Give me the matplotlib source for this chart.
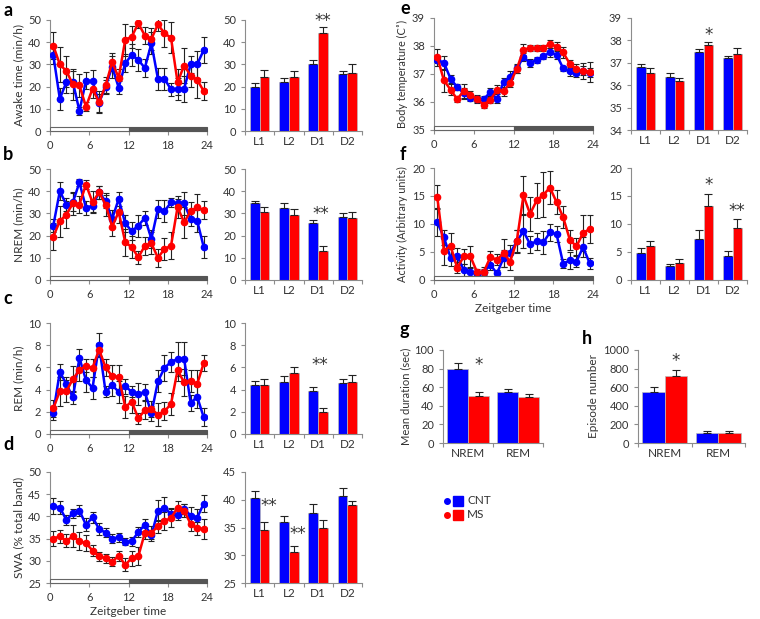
import matplotlib
matplotlib.use("Agg")
import matplotlib.pyplot as plt
import matplotlib.transforms as mtransforms
from matplotlib.patches import Rectangle
import numpy as np

plt.rcParams['font.family'] = ['Lato', 'DejaVu Sans']
plt.rcParams['font.size'] = 8

BLUE = "#0000ff"
RED = "#ff0000"
GREY = "#8c8c8c"
TXT = "#333333"

# hourly time points (Zeitgeber time)
zt = [h + 0.5 for h in range(24)]

# a: awake time (min/h)
a_cnt = [34.3, 14.5, 22, 22, 9, 22.7, 22.5, 12.7, 20, 29, 19.5, 30.5, 34.3, 32, 28.4, 39.5, 23.5, 23.5, 18.7, 19, 19, 30, 30, 36.5]
a_cnt_err = [4, 5, 5, 5, 2, 4, 5, 4, 3, 5, 3, 4, 5, 5, 4, 5, 5, 5, 3, 5, 6, 4, 6, 6]
a_ms = [38.5, 30, 27, 21, 20.5, 11, 19, 13, 20.5, 31, 24, 41, 42.5, 48.5, 43, 41.5, 48, 44, 42, 22, 29.5, 25, 23, 18]
a_ms_err = [6, 8, 7, 7, 5, 2, 4, 5, 4, 4, 4, 7, 5, 2, 4, 5, 3, 6, 7, 6, 8, 5, 8, 4]

# b: NREM (min/h)
b_cnt = [24.4, 40, 34, 35, 44, 32.5, 33.5, 39.5, 35.5, 27.5, 36.5, 25.5, 22, 24.5, 28, 18.5, 32, 31, 35, 34.5, 34.5, 27.5, 26.7, 14.8]
b_cnt_err = [3, 4, 3, 4, 1.5, 3, 3, 3, 3, 4, 3, 4, 4, 5, 3, 4, 4, 5, 2, 2, 5, 3, 5, 5]
b_ms = [19.5, 26.5, 29.5, 34.5, 34, 43, 35, 39.5, 34, 24, 30.7, 17, 14.8, 10.2, 15.4, 16.5, 10, 14, 15.4, 32.8, 26, 31, 32.8, 31.5]
b_ms_err = [6, 7, 6, 5, 4, 2, 5, 3, 5, 4, 5, 6, 5, 3, 4, 5, 4, 5, 6, 5, 7, 4, 6, 4]

# c: REM (min/h)
c_cnt = [1.9, 5.6, 4.5, 3.3, 6.85, 4.85, 4.15, 8.0, 3.8, 4.4, 3.8, 4.3, 3.8, 3.6, 3.8, 1.85, 4.75, 5.95, 6.5, 6.75, 6.8, 2.8, 3.35, 1.5]
c_cnt_err = [0.6, 0.7, 0.6, 0.6, 0.8, 1.1, 1.0, 1.1, 0.5, 1.0, 1.0, 0.7, 0.5, 1.0, 0.7, 0.7, 1.0, 1.2, 0.9, 1.5, 1.5, 0.7, 1.0, 0.8]
c_ms = [2.3, 3.85, 3.85, 4.95, 5.75, 6.15, 5.95, 7.6, 6.0, 5.2, 5.15, 2.45, 2.9, 1.4, 2.15, 2.25, 1.75, 2.05, 2.7, 5.75, 4.65, 4.8, 4.5, 6.4]
c_ms_err = [0.8, 1.3, 1.0, 1.2, 1.0, 0.6, 0.8, 0.6, 0.8, 1.0, 1.1, 1.0, 1.0, 0.5, 0.8, 0.7, 1.0, 0.8, 1.0, 1.0, 1.2, 1.0, 1.3, 0.7]

# d: SWA (% total band)
d_cnt = [42.3, 42.0, 39.2, 40.7, 41.3, 38.1, 39.8, 37.2, 36.3, 35.0, 35.3, 34.3, 34.4, 36.5, 38.1, 35.7, 41.3, 41.9, 40.6, 40.4, 41.7, 40.2, 39.7, 42.9]
d_cnt_err = [1.8, 1.4, 1.2, 1.0, 1.2, 1.5, 1.3, 1.3, 1.0, 1.0, 1.0, 0.8, 1.0, 1.2, 1.3, 1.3, 2.3, 2.5, 1.2, 1.1, 1.2, 2.0, 2.0, 2.0]
d_ms = [35.0, 35.5, 34.5, 35.5, 34.4, 34.0, 32.3, 31.0, 30.6, 29.8, 31.1, 29.1, 30.6, 31.0, 36.3, 36.3, 37.8, 39.0, 39.6, 42.0, 41.3, 38.3, 37.3, 37.2]
d_ms_err = [1.6, 1.5, 1.5, 2.5, 2.0, 1.8, 1.2, 1.0, 1.0, 1.0, 1.2, 1.5, 1.7, 2.0, 1.5, 1.5, 1.5, 2.0, 2.0, 1.5, 1.5, 1.5, 1.5, 2.3]

# e: body temperature
e_cnt = [37.5, 37.4, 36.83, 36.53, 36.31, 36.13, 36.1, 36.1, 36.35, 36.12, 36.7, 36.9, 37.2, 37.6, 37.4, 37.5, 37.63, 37.77, 37.69, 37.2, 37.09, 37.03, 37.12, 37.05]
e_cnt_err = [0.1, 0.25, 0.15, 0.1, 0.2, 0.1, 0.1, 0.1, 0.15, 0.15, 0.15, 0.2, 0.15, 0.15, 0.15, 0.1, 0.1, 0.15, 0.15, 0.1, 0.15, 0.15, 0.15, 0.15]
e_ms = [37.6, 36.77, 36.44, 36.1, 36.4, 36.26, 36.1, 35.9, 36.08, 36.42, 36.38, 36.68, 37.18, 37.87, 37.93, 37.93, 37.93, 38.08, 37.98, 37.77, 37.36, 37.17, 37.11, 37.07]
e_ms_err = [0.3, 0.4, 0.2, 0.1, 0.25, 0.15, 0.15, 0.1, 0.1, 0.2, 0.15, 0.15, 0.15, 0.2, 0.1, 0.1, 0.1, 0.15, 0.15, 0.2, 0.15, 0.2, 0.3, 0.35]

# f: activity
f_cnt = [10.3, 7.6, 4.0, 4.2, 1.8, 1.5, 1.1, 1.5, 2.7, 1.2, 3.9, 4.8, 6.9, 8.7, 6.4, 6.9, 6.7, 8.5, 8.2, 2.9, 3.5, 3.3, 5.85, 3.0]
f_cnt_err = [2.5, 1.3, 1.5, 1.5, 1.0, 0.7, 0.4, 0.8, 1.0, 0.5, 1.5, 1.5, 2.0, 3.0, 1.5, 1.5, 2.0, 1.5, 1.5, 0.8, 1.5, 1.0, 1.8, 1.0]
f_ms = [14.8, 5.2, 6.1, 2.2, 4.2, 4.2, 1.4, 1.4, 4.1, 3.6, 4.8, 3.3, 7.0, 15.1, 11.8, 14.2, 15.2, 16.5, 13.9, 11.2, 7.2, 6.0, 8.4, 9.1]
f_ms_err = [2.2, 2.5, 2.3, 1.0, 1.3, 1.8, 0.5, 0.5, 1.0, 1.0, 2.5, 1.5, 2.0, 3.5, 3.0, 3.2, 4.0, 3.0, 2.2, 2.0, 1.8, 1.5, 3.2, 2.5]

# bar summaries per phase
phases = ["L1", "L2", "D1", "D2"]
a_bar_cnt = [20, 22, 30, 25.5]
a_bar_cnt_err = [1.5, 2, 2, 1.5]
a_bar_ms = [24.5, 24.5, 44, 26]
a_bar_ms_err = [3, 2.5, 3, 4]
b_bar_cnt = [34.5, 32.5, 25.5, 28.5]
b_bar_cnt_err = [1.2, 2, 1.5, 1.7]
b_bar_ms = [30.5, 29.5, 13, 28]
b_bar_ms_err = [2.5, 2.5, 2.5, 2.5]
c_bar_cnt = [4.4, 4.65, 3.85, 4.55]
c_bar_cnt_err = [0.35, 0.55, 0.35, 0.4]
c_bar_ms = [4.45, 5.5, 2.0, 4.7]
c_bar_ms_err = [0.55, 0.55, 0.35, 0.6]
d_bar_cnt = [40.3, 36, 37.7, 40.6]
d_bar_cnt_err = [1.3, 1.0, 1.5, 1.5]
d_bar_ms = [34.5, 30.5, 34.9, 39]
d_bar_ms_err = [1.5, 1.2, 1.5, 0.8]
e_bar_cnt = [36.8, 36.35, 37.5, 37.2]
e_bar_cnt_err = [0.15, 0.2, 0.1, 0.12]
e_bar_ms = [36.55, 36.2, 37.8, 37.4]
e_bar_ms_err = [0.2, 0.1, 0.12, 0.25]
f_bar_cnt = [4.8, 2.5, 7.3, 4.3]
f_bar_cnt_err = [0.9, 0.4, 1.7, 0.8]
f_bar_ms = [6.0, 3.0, 13.2, 9.2]
f_bar_ms_err = [0.9, 0.8, 2.2, 1.7]

states = ["NREM", "REM"]
g_cnt = [80, 55]
g_cnt_err = [6, 3]
g_ms = [51, 49]
g_ms_err = [4, 4]
h_cnt = [550, 110]
h_cnt_err = [50, 15]
h_ms = [720, 110]
h_ms_err = [70, 20]

W, H = 760, 619
fig = plt.figure(figsize=(W / 100, H / 100), dpi=100)


def add_ax(l, t, r, b):
    return fig.add_axes([l / W, 1 - b / H, (r - l) / W, (b - t) / H])


def style(ax):
    for s in ["top", "right"]:
        ax.spines[s].set_visible(False)
    for s in ["left", "bottom"]:
        ax.spines[s].set_color(GREY)
        ax.spines[s].set_linewidth(0.8)
    ax.tick_params(colors=GREY, labelcolor=TXT, length=3, width=0.8, labelsize=8)


def line_panel(ax, cnt, cnt_err, ms, ms_err, ylim, yticks, ylabel, xlabel=False, lsize=8.5):
    style(ax)
    ax.errorbar(zt, cnt, yerr=cnt_err, fmt="none", ecolor="#222222", elinewidth=0.8, capsize=2, capthick=0.8, zorder=1)
    ax.errorbar(zt, ms, yerr=ms_err, fmt="none", ecolor="#222222", elinewidth=0.8, capsize=2, capthick=0.8, zorder=1)
    ax.plot(zt, cnt, "-o", color=BLUE, lw=1.8, ms=4.5, zorder=3)
    ax.plot(zt, ms, "-o", color=RED, lw=1.8, ms=4.5, zorder=3)
    ax.set_xlim(0, 24)
    ax.set_xticks([0, 6, 12, 18, 24])
    ax.set_ylim(*ylim)
    ax.set_yticks(yticks)
    ax.set_ylabel(ylabel, color=TXT, fontsize=lsize, labelpad=3)
    if xlabel:
        ax.set_xlabel("Zeitgeber time", color=TXT, fontsize=8.5, labelpad=2)
    trans = mtransforms.blended_transform_factory(ax.transData, ax.transAxes)
    ax.add_patch(Rectangle((0, 0), 12, 0.04, transform=trans, facecolor="white", edgecolor="#666666", lw=0.8, clip_on=False, zorder=4))
    ax.add_patch(Rectangle((12, 0), 12, 0.04, transform=trans, facecolor="#555555", edgecolor="#555555", lw=0.8, clip_on=False, zorder=4))


def bar_panel(ax, labels, cnt, cnt_err, ms, ms_err, ylim, yticks, bottom=0, width=0.33):
    style(ax)
    x = np.arange(len(labels))
    ekw = dict(ecolor="#222222", elinewidth=0.8, capsize=3, capthick=0.8)
    ax.bar(x - width / 2, np.array(cnt) - bottom, width, bottom=bottom, color=BLUE,
           yerr=[np.zeros(len(cnt)), cnt_err], error_kw=ekw, edgecolor="#bbbbbb", lw=0.5)
    ax.bar(x + width / 2, np.array(ms) - bottom, width, bottom=bottom, color=RED,
           yerr=[np.zeros(len(ms)), ms_err], error_kw=ekw, edgecolor="#bbbbbb", lw=0.5)
    ax.set_xlim(-0.5, len(labels) - 0.5)
    ax.set_xticks(np.arange(len(labels) + 1) - 0.5)
    ax.set_xticklabels([])
    ax.set_xticks(x, minor=True)
    ax.set_xticklabels(labels, minor=True)
    ax.tick_params(axis="x", which="minor", length=0, labelsize=8.5, labelcolor=TXT)
    ax.set_ylim(*ylim)
    ax.set_yticks(yticks)
    return x


def star(ax, x, y, s):
    ax.text(x, y, s, ha="center", va="bottom", fontsize=12, color=TXT, family="DejaVu Sans")


# a
ax = add_ax(50, 20, 207, 131)
line_panel(ax, a_cnt, a_cnt_err, a_ms, a_ms_err, (0, 50), range(0, 51, 10), "Awake time (min/h)")
ax = add_ax(245, 20, 362, 131)
x = bar_panel(ax, phases, a_bar_cnt, a_bar_cnt_err, a_bar_ms, a_bar_ms_err, (0, 50), range(0, 51, 10))
star(ax, x[2] + 0.165, 45.5, "**")

# b
ax = add_ax(50, 169, 207, 280)
line_panel(ax, b_cnt, b_cnt_err, b_ms, b_ms_err, (0, 50), range(0, 51, 10), "NREM (min/h)")
ax = add_ax(245, 169, 362, 280)
x = bar_panel(ax, phases, b_bar_cnt, b_bar_cnt_err, b_bar_ms, b_bar_ms_err, (0, 50), range(0, 51, 10))
star(ax, x[2] + 0.1, 25.5, "**")

# c
ax = add_ax(50, 323, 207, 434)
line_panel(ax, c_cnt, c_cnt_err, c_ms, c_ms_err, (0, 10), range(0, 11, 2), "REM (min/h)")
ax = add_ax(245, 323, 362, 434)
x = bar_panel(ax, phases, c_bar_cnt, c_bar_cnt_err, c_bar_ms, c_bar_ms_err, (0, 10), range(0, 11, 2))
star(ax, x[2] + 0.05, 5.4, "**")

# d
ax = add_ax(50, 472, 207, 583)
line_panel(ax, d_cnt, d_cnt_err, d_ms, d_ms_err, (25, 50), range(25, 51, 5), "SWA (% total band)", xlabel=True)
ax = add_ax(245, 472, 362, 583)
x = bar_panel(ax, phases, d_bar_cnt, d_bar_cnt_err, d_bar_ms, d_bar_ms_err, (25, 45), range(25, 46, 5), bottom=25)
star(ax, x[0] + 0.3, 37.2, "**")
star(ax, x[1] + 0.32, 32.2, "**")

# e
ax = add_ax(434, 18, 593, 130)
line_panel(ax, e_cnt, e_cnt_err, e_ms, e_ms_err, (35, 39), range(35, 40), "Body temperature (C\u02da)", lsize=7.8)
ax = add_ax(631, 18, 747, 130)
x = bar_panel(ax, phases, e_bar_cnt, e_bar_cnt_err, e_bar_ms, e_bar_ms_err, (34, 39), range(34, 40), bottom=34)
star(ax, x[2] + 0.165, 37.85, "*")

# f
ax = add_ax(434, 168, 593, 280)
line_panel(ax, f_cnt, f_cnt_err, f_ms, f_ms_err, (0, 20), range(0, 21, 5), "Activity (Arbitrary units)", xlabel=True, lsize=7.8)
ax = add_ax(631, 168, 747, 280)
x = bar_panel(ax, phases, f_bar_cnt, f_bar_cnt_err, f_bar_ms, f_bar_ms_err, (0, 20), range(0, 21, 5))
star(ax, x[2] + 0.165, 15.3, "*")
star(ax, x[3] + 0.165, 10.8, "**")

# g
ax = add_ax(443, 350, 543, 443)
x = bar_panel(ax, states, g_cnt, g_cnt_err, g_ms, g_ms_err, (0, 100), range(0, 101, 20), width=0.42)
ax.set_ylabel("Mean duration (sec)", color=TXT, fontsize=8, labelpad=2)
star(ax, x[0] + 0.22, 74, "*")

# h
ax = add_ax(638, 350, 745, 443)
x = bar_panel(ax, states, h_cnt, h_cnt_err, h_ms, h_ms_err, (0, 1000), range(0, 1001, 200), width=0.42)
ax.set_ylabel("Episode number", color=TXT, fontsize=8.5, labelpad=3)
star(ax, x[0] + 0.21, 780, "*")

# panel letters
for lab, px, py in [("a", 3, 10), ("b", 3, 155), ("c", 3, 299), ("d", 3, 445),
                    ("e", 400, 9), ("f", 400, 155), ("g", 400, 330), ("h", 582, 338)]:
    fig.text(px / W, 1 - py / H, lab, fontsize=13, fontweight="bold", va="center", ha="left")

# legend
for name, col, py in [("CNT", BLUE, 501), ("MS", RED, 515)]:
    fig.lines.append(plt.Line2D([447 / W], [1 - py / H], marker="o", ms=4, color=col, transform=fig.transFigure))
    fig.lines.append(plt.Line2D([458 / W], [1 - py / H], marker="s", ms=7, color=col, transform=fig.transFigure))
    fig.text(467 / W, 1 - py / H, name, fontsize=8.5, color=TXT, va="center")

plt.savefig("out.png", dpi=100)
